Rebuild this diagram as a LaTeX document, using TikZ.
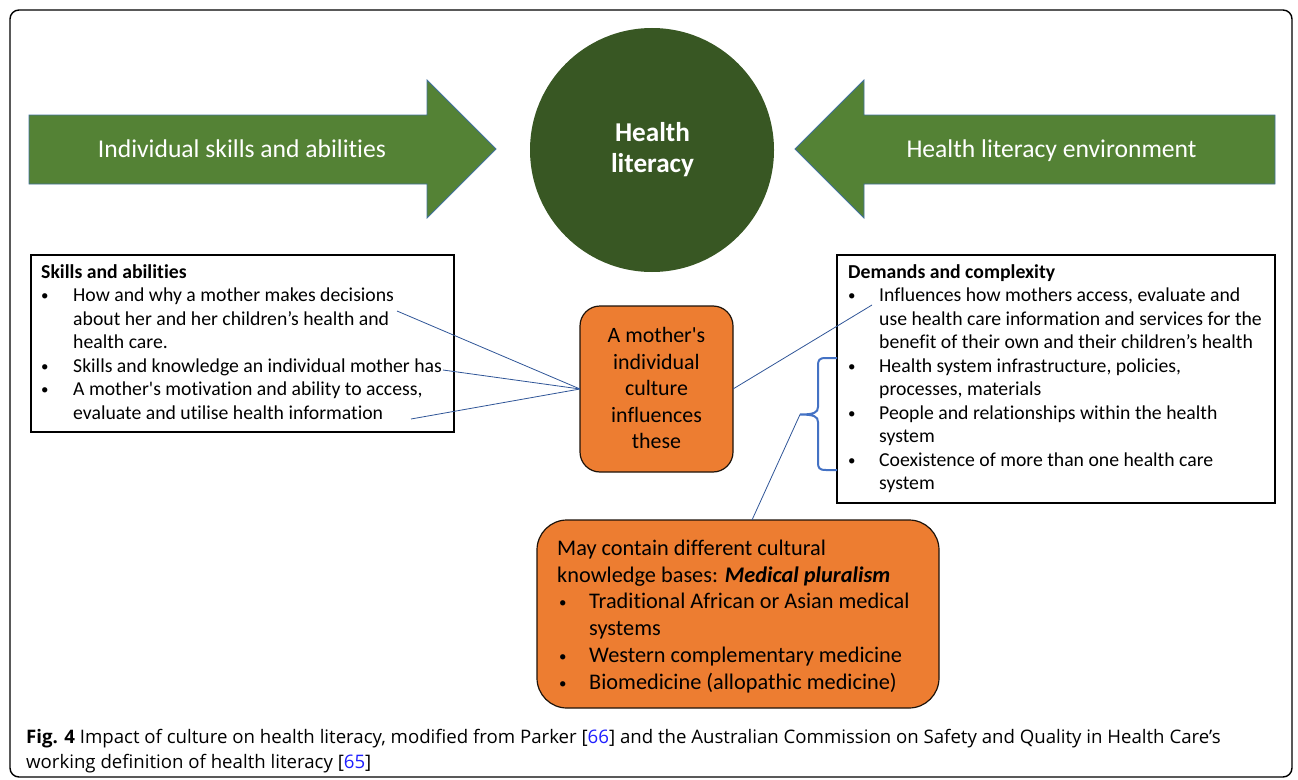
\documentclass[tikz,border=0pt]{standalone}
\usepackage{fontspec}
\setmainfont{Carlito}[Ligatures={TeX,NoCommon}]
\newfontfamily\capfont{Open Sans}[Ligatures={TeX,NoCommon}]
\definecolor{arrowgreen}{HTML}{548235}
\definecolor{darkgreen}{HTML}{385723}
\definecolor{shapeedge}{HTML}{41719C}
\definecolor{boxorange}{HTML}{ED7D31}
\definecolor{linkblue}{HTML}{2F5597}
\definecolor{bracecol}{HTML}{4472C4}
\definecolor{refblue}{HTML}{1F1FFF}
\newcommand{\bul}[1]{\makebox[#1][l]{\raisebox{1.2bp}{\fontsize{15}{15}\selectfont\textbullet}}}
\begin{document}
\begin{tikzpicture}[x=1bp,y=-1bp,
  bigarrow/.style={fill=arrowgreen,draw=shapeedge,line width=0.8bp},
  arrowlabel/.style={anchor=base,text=white,font=\fontsize{25.7}{30}\selectfont,inner sep=0},
  listbox/.style={draw=black,line width=1.1bp},
  listtext/.style={anchor=north west,align=left,inner sep=0,font=\fontsize{19.8}{23.6}\selectfont},
  orangebox/.style={draw=black!85!brown,line width=1.2bp,fill=boxorange,rounded corners=#1},
  connector/.style={draw=linkblue,line width=0.8bp},
  captext/.style={anchor=base west,inner sep=0,font=\capfont\fontsize{18.7}{24}\selectfont}]
\useasboundingbox (0,0) rectangle (1298,780);

% outer frame
\draw[line width=1.4bp,rounded corners=9bp] (10,10) rectangle (1292,777);

% block arrows
\draw[bigarrow] (29,115) -- (427,115) -- (427,80) -- (496,149) -- (427,218) -- (427,184) -- (29,184) -- cycle;
\draw[bigarrow] (1275,115) -- (864,115) -- (864,80) -- (795,149) -- (864,218) -- (864,184) -- (1275,184) -- cycle;
\node[arrowlabel] (lab1) at (242,157) {Individual skills and abilities};
\node[arrowlabel] (lab2) at (1051.5,157) {Health literacy environment};

% central circle
\node[circle,fill=darkgreen,minimum size=244bp,inner sep=0] (hl) at (652,150) {};
\node[anchor=north,align=center,inner sep=0,text=white,font=\bfseries\fontsize{27.3}{31}\selectfont] (hltext) at (652.5,120) {\strut Health\\literacy};

% left list
\draw[listbox] (31,255) rectangle (454,432);
\node[listtext] (skills) at (41,261.5) {\textbf{Skills and abilities}\strut\\
\bul{32bp}How and why a mother makes decisions\\
\hspace*{32bp}about her and her children’s health and\\
\hspace*{32bp}health care.\\
\bul{32bp}Skills and knowledge an individual mother has\\
\bul{32bp}A mother\textquotesingle s motivation and ability to access,\\
\hspace*{32bp}evaluate and utilise health information};

% right list
\draw[listbox] (837,255) rectangle (1275,503);
\node[listtext] (demands) at (848,261.5) {\textbf{Demands and complexity}\strut\\
\bul{31bp}Influences how mothers access, evaluate and\\
\hspace*{31bp}use health care information and services for the\\
\hspace*{31bp}benefit of their own and their children’s health\\
\bul{31bp}Health system infrastructure, policies,\\
\hspace*{31bp}processes, materials\\
\bul{31bp}People and relationships within the health\\
\hspace*{31bp}system\\
\bul{31bp}Coexistence of more than one health care\\
\hspace*{31bp}system};

% middle box
\draw[orangebox=20bp] (580,306) rectangle (733,472);
\node[inner sep=0] (mid) at (656.5,389) {};
\node[anchor=north,align=center,inner sep=0,font=\fontsize{22}{26.6}\selectfont] (midtext) at (656.5,324.1)
  {\strut A mother\textquotesingle s\\individual\\culture\\influences\\these};
\coordinate (midW) at (580,389);
\coordinate (midE) at (733,389);

% bottom box
\draw[orangebox=30bp] (537,520) rectangle (939,708);
\coordinate (botN) at (752,520);
\node[anchor=north west,align=left,inner sep=0,font=\fontsize{22.4}{27}\selectfont] (plural) at (557,536.1)
  {May contain different cultural\strut\\
   knowledge bases: \textbf{\textit{Medical pluralism}}\\
   \hspace*{2bp}\bul{30bp}Traditional African or Asian medical\\
   \hspace*{32bp}systems\\
   \hspace*{2bp}\bul{30bp}Western complementary medicine\\
   \hspace*{2bp}\bul{30bp}Biomedicine (allopathic medicine)};

% connectors
\coordinate (s1) at (397,311);
\coordinate (s2) at (443,370);
\coordinate (s3) at (411,419);
\coordinate (d1) at (872,305);
\coordinate (tip) at (800,414.5);
\draw[connector] (s1) -- (midW);
\draw[connector] (s2) -- (midW);
\draw[connector] (s3) -- (midW);
\draw[connector] (midE) -- (d1);
\draw[connector] (tip) -- (botN);

% brace
\draw[draw=bracecol,line width=2bp] (837,358) -- (826,358) .. controls (819,358) and (818,360) .. (818,366)
  -- (818,407) .. controls (818,412.5) and (814,414.5) .. (tip)
  .. controls (814,414.5) and (818,416.5) .. (818,422) -- (818,462)
  .. controls (818,468) and (819,470) .. (826,470) -- (837,470);

% caption
\node[captext] (cap1) at (26,743)
  {\textbf{Fig. 4} Impact of culture on health literacy, modified from Parker [{\color{refblue}66}] and the Australian Commission on Safety and Quality in Health Care’s};
\node[captext] (cap2) at (26,768)
  {working definition of health literacy [{\color{refblue}65}]};
\end{tikzpicture}
\end{document}
